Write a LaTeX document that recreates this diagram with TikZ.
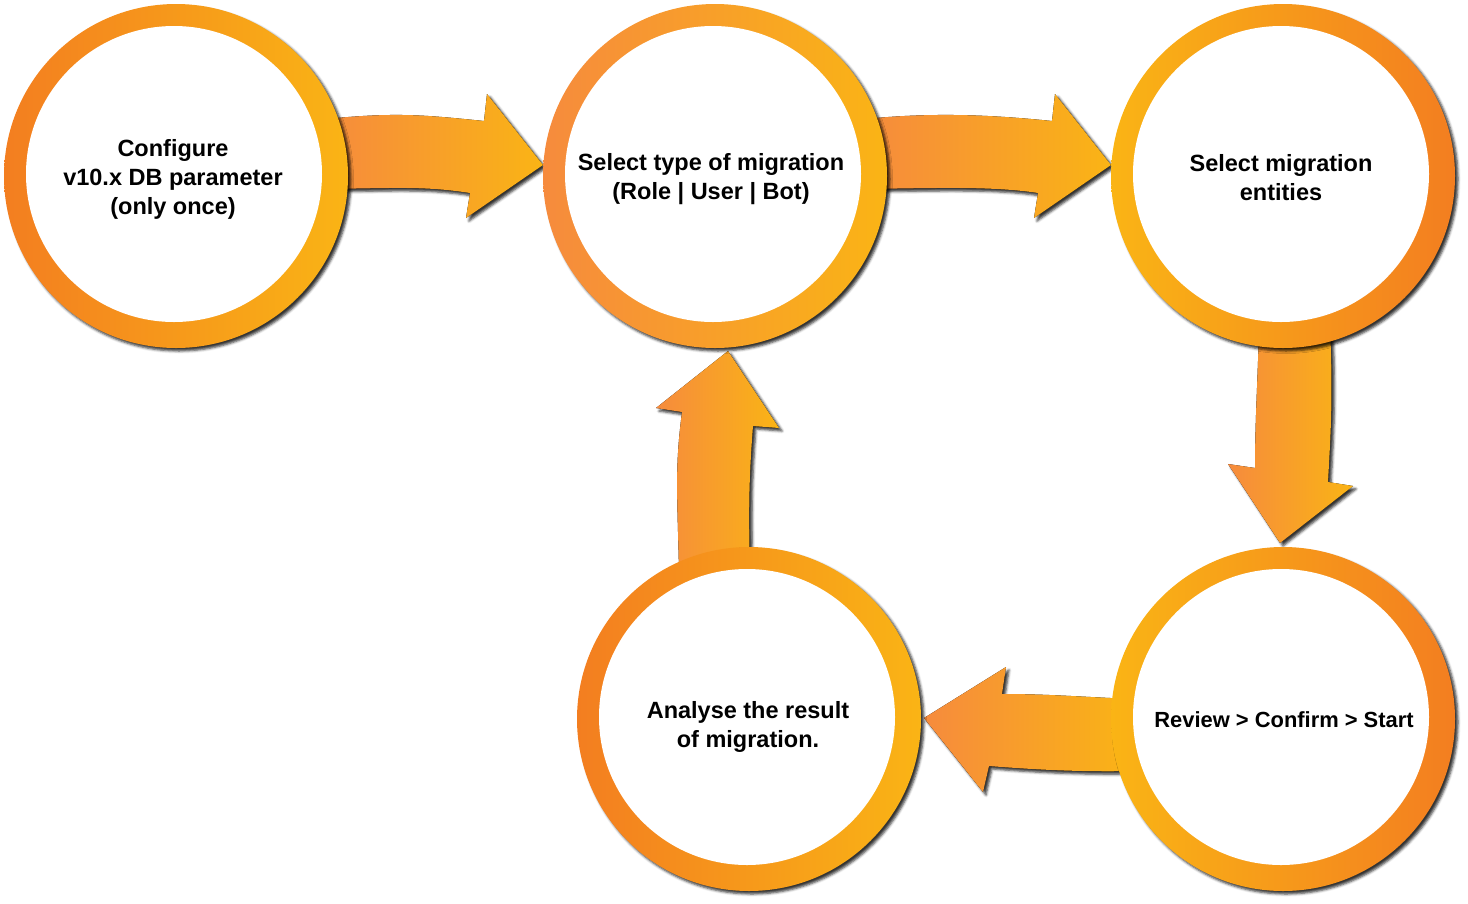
\documentclass[tikz,border=0pt]{standalone}
\usepackage{fontspec}
\setmainfont{Liberation Sans}
\usetikzlibrary{calc,shadows.blur,backgrounds}
\definecolor{dor}{HTML}{F37E20}
\definecolor{lor}{HTML}{F68B3D}
\definecolor{yel}{HTML}{FAB415}
\tikzset{
  ring/.style={circle, minimum size=344pt, inner sep=0pt,
    blur shadow={shadow xshift=3pt, shadow yshift=-3pt, shadow blur radius=2.5pt, shadow opacity=80}},
  hole/.style={circle, fill=white, minimum size=296pt, inner sep=0pt},
  txt/.style={align=center, inner sep=0pt, font=\fontsize{23.5}{29}\selectfont\bfseries},
  flow/.style={left color=lor, right color=yel,
    blur shadow={shadow xshift=3pt, shadow yshift=-3pt, shadow blur radius=2.5pt, shadow opacity=80}},
}
\begin{document}
\begin{tikzpicture}[x=1pt,y=-1pt]
\useasboundingbox (0,0) rectangle (1468,903);
% rings
\node[ring, left color=dor, right color=yel] (c1) at (176,176) {};
\node[ring, left color=lor, right color=yel] (c2) at (715,176) {};
\node[ring, left color=yel, right color=dor] (c3) at (1283,176) {};
\node[ring, left color=yel, right color=dor] (c4) at (1283,719) {};
\node[ring, left color=dor, right color=yel] (c5) at (749,719) {};
% white centres
\node[hole] (h1) at ($(c1)+(-2,-2)$) {};
\node[hole] (h2) at ($(c2)+(-2,-2)$) {};
\node[hole] (h3) at ($(c3)+(-2,-2)$) {};
\node[hole] (h4) at ($(c4)+(-2,-2)$) {};
\node[hole] (h5) at ($(c5)+(-2,-2)$) {};
% texts
\node[txt] (t1) at ($(h1)+(-1,5)$) {Configure\\v10.x DB parameter\\(only once)};
\node[txt] (t2) at ($(h2)+(-2,5)$) {Select type of migration\\(Role | User | Bot)};
\node[txt] (t3) at ($(h3)+(0,4)$) {Select migration\\entities};
\node[txt, font=\fontsize{21.9}{27}\selectfont\bfseries] (t4) at ($(h4)+(3,3)$) {Review > Confirm > Start};
\node[txt] (t5) at ($(h5)+(1,10)$) {Analyse the result\\of migration.};
% arrows behind the rings
\begin{pgfonlayer}{background}
\fill[flow] ($(c1)+(150,-57)$) .. controls ($(c1)+(220,-64)$) and ($(c2)+(-290,-61)$) .. ($(c2)+(-231,-55)$)
  -- ($(c2)+(-228,-82)$) -- ($(c2)+(-172,-11)$) -- ($(c2)+(-249,42)$) -- ($(c2)+(-245,17)$)
  .. controls ($(c2)+(-290,10)$) and ($(c1)+(220,12)$) .. ($(c1)+(150,13)$) -- cycle;
\fill[flow] ($(c2)+(150,-57)$) .. controls ($(c2)+(220,-64)$) and ($(c3)+(-290,-61)$) .. ($(c3)+(-231,-55)$)
  -- ($(c3)+(-228,-82)$) -- ($(c3)+(-172,-11)$) -- ($(c3)+(-249,42)$) -- ($(c3)+(-245,17)$)
  .. controls ($(c3)+(-290,10)$) and ($(c2)+(220,12)$) .. ($(c2)+(150,13)$) -- cycle;
\fill[flow] ($(c3)+(-24,150)$) -- ($(c3)+(47,150)$)
  .. controls ($(c3)+(50,220)$) and ($(c4)+(48,-290)$) .. ($(c4)+(45,-237)$)
  -- ($(c4)+(70,-233)$) -- ($(c4)+(-3,-176)$) -- ($(c4)+(-55,-255)$) -- ($(c4)+(-28,-251)$)
  .. controls ($(c4)+(-28,-300)$) and ($(c3)+(-25,200)$) .. cycle;
\fill[flow] ($(c4)+(-150,-20)$) .. controls ($(c4)+(-200,-22)$) and ($(c5)+(300,-25)$) .. ($(c5)+(253,-25)$)
  -- ($(c5)+(257,-52)$) -- ($(c5)+(175,-1)$) -- ($(c5)+(234,73)$) -- ($(c5)+(240,47)$)
  .. controls ($(c5)+(290,51)$) and ($(c4)+(-200,53)$) .. ($(c4)+(-150,52)$) -- cycle;
\fill[flow] ($(c5)+(-70,-150)$) -- ($(c5)+(1,-150)$)
  .. controls ($(c5)+(-1,-220)$) and ($(c2)+(35,290)$) .. ($(c2)+(38,250)$)
  -- ($(c2)+(64,252)$) -- ($(c2)+(13,175)$) -- ($(c2)+(-59,232)$) -- ($(c2)+(-33,236)$)
  .. controls ($(c2)+(-40,290)$) and ($(c5)+(-72,-230)$) .. cycle;
\end{pgfonlayer}
\end{tikzpicture}
\end{document}
